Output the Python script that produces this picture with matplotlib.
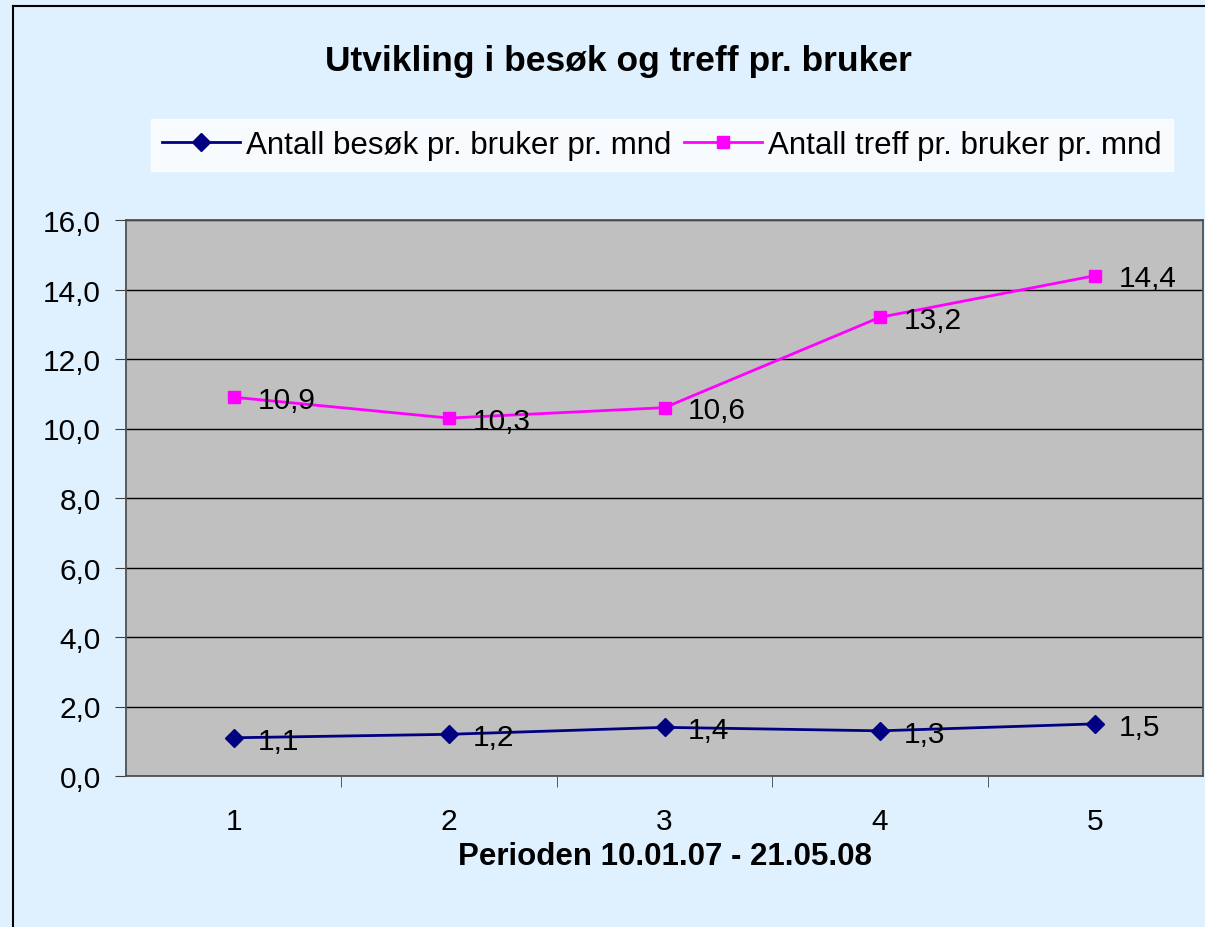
import matplotlib.pyplot as plt
from matplotlib.lines import Line2D

plt.rcParams['font.family'] = ['Liberation Sans', 'DejaVu Sans']

# data
perioder = [1, 2, 3, 4, 5]
besok = [1.1, 1.2, 1.4, 1.3, 1.5]
treff = [10.9, 10.3, 10.6, 13.2, 14.4]
y_ticks = [0, 2, 4, 6, 8, 10, 12, 14, 16]

navy = '#000080'
magenta = '#FF00FF'
bg = '#DFF0FE'

fig = plt.figure(figsize=(12.05, 9.28), dpi=100)
fig.patch.set_facecolor(bg)

# ramme rundt diagrammet
fig.add_artist(Line2D([13 / 1205, 13 / 1205], [0, 1 - 7 / 928], color='black', lw=1.5))
fig.add_artist(Line2D([13 / 1205, 1], [1 - 7 / 928, 1 - 7 / 928], color='black', lw=1.5))

ax = fig.add_axes([126 / 1205, 151 / 928, 1077 / 1205, 556 / 928])
ax.set_facecolor('#C0C0C0')

l1, = ax.plot(perioder, besok, color=navy, marker='D', markersize=9, lw=2,
              label='Antall besøk pr. bruker pr. mnd')
l2, = ax.plot(perioder, treff, color=magenta, marker='s', markersize=9, lw=2,
              label='Antall treff pr. bruker pr. mnd')

for serie in (besok, treff):
    for x, y in zip(perioder, serie):
        ax.annotate(f'{y:.1f}'.replace('.', ','), (x, y), xytext=(17, -2),
                    textcoords='offset points', va='center', ha='left', fontsize=21.5)

ax.set_xlim(0.5, 5.5)
ax.set_ylim(0, 16)
ax.set_yticks(y_ticks)
ax.set_yticklabels([f'{v:.1f}'.replace('.', ',') for v in y_ticks], fontsize=21.5)
ax.set_xticks(perioder)
ax.set_xticklabels([str(p) for p in perioder], fontsize=21.5)
ax.set_xticks([1.5, 2.5, 3.5, 4.5], minor=True)
ax.tick_params(axis='x', which='major', length=0, pad=22)
ax.tick_params(axis='x', which='minor', length=8, direction='out', color='#404040')
ax.tick_params(axis='y', length=8, direction='out', color='#404040', pad=10)
ax.yaxis.grid(True, color='black', lw=1)
ax.set_axisbelow(True)
for s in ax.spines.values():
    s.set_color('#505050')
    s.set_linewidth(1.3)

ax.set_xlabel('Perioden 10.01.07 - 21.05.08', fontsize=22.5, fontweight='bold', labelpad=5)

fig.text(618 / 1205, 1 - 62 / 928, 'Utvikling i besøk og treff pr. bruker',
         ha='center', va='center', fontsize=25.5, fontweight='bold')

leg = fig.legend(handles=[l1, l2], loc='center', bbox_to_anchor=(662 / 1205, 1 - 146 / 928),
                 ncol=2, fontsize=22.5, frameon=True, fancybox=False, handlelength=2.5,
                 handletextpad=0.2, columnspacing=0.4, borderpad=0.35, borderaxespad=0)
leg.get_frame().set_facecolor('white')
leg.get_frame().set_edgecolor('white')

fig.savefig('out.png', dpi=100, facecolor=bg)
